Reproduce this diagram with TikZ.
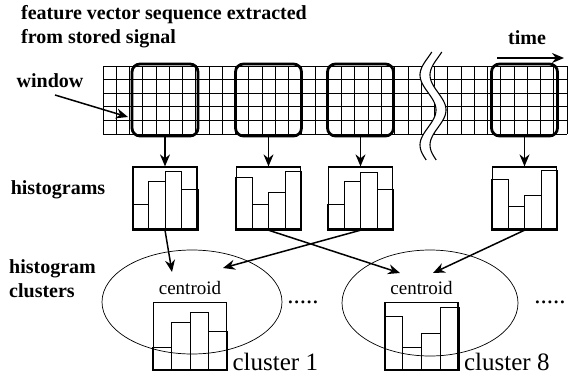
\documentclass[tikz,border=0pt]{standalone}
\usepackage{fontspec}
\setmainfont{Liberation Serif}[BoldFont={Liberation Serif Bold}]
\usetikzlibrary{positioning,calc,shapes.geometric,arrows.meta}

% bars of a histogram box: node, four heights (part of the box height)
\newcommand{\histbars}[5]{%
  \foreach \hb [count=\ib from 0] in {#2,#3,#4,#5}{%
    \path ($(#1.south west)!{(\ib+1)/4}!(#1.south east)$) coordinate (bx)
          ($(#1.south west)!\hb!(#1.north west)$) coordinate (by);
    \draw[bar] ($(#1.south west)!{\ib/4}!(#1.south east)$) rectangle (bx |- by);
  }}

\begin{document}
\begin{tikzpicture}[x=1pt,y=-1pt,every node/.style={inner sep=0pt}]
\tikzstyle{arrow}=[draw,line width=1.5pt,-{Stealth[length=12pt,width=10pt]}]
\tikzstyle{gridline}=[line width=0.8pt]
\tikzstyle{window}=[draw,line width=2.8pt,rounded corners=8pt,minimum width=66pt,minimum height=72pt]
\tikzstyle{hist}=[draw,line width=1.8pt,minimum width=64pt,minimum height=62pt]
\tikzstyle{centbox}=[draw,line width=1.8pt,minimum width=73pt,minimum height=67pt]
\tikzstyle{bar}=[line width=0.8pt]
\tikzstyle{cluster}=[draw,ellipse,line width=0.7pt]
\tikzstyle{label}=[font=\fontsize{20}{24}\selectfont\bfseries]
\tikzstyle{small}=[font=\fontsize{19}{22}\selectfont]
\tikzstyle{big}=[font=\fontsize{25}{28}\selectfont]
\useasboundingbox (0,0) rectangle (570,380);

% feature vector grid
\foreach \i in {0,...,35}
  \draw[gridline] (103+\i*13.257,66) -- (103+\i*13.257,134);
\foreach \j in {0,...,5}
  \draw[gridline] (103,66+\j*13.6) -- (567,66+\j*13.6);

% break in the sequence
\draw[white,line width=9pt] plot[domain=62:138,samples=40,smooth] ({433-8*cos(5.1429*(\x-75))},\x);
\draw[line width=1.1pt] plot[domain=52:160,samples=50,smooth] ({428-8*cos(5.1429*(\x-75))},\x);
\draw[line width=1.1pt] plot[domain=52:160,samples=50,smooth] ({438-8*cos(5.1429*(\x-75))},\x);

% windows
\node[window](w1) at (165,100) {};
\node[window](w2) at (268.5,100) {};
\node[window](w3) at (360.5,100) {};
\node[window](w4) at (524.5,100) {};

\node[label,anchor=north west,align=left](title) at (21,5) {feature vector sequence extracted\\from stored signal};
\node[label](tlab) at (527,38) {time};
\coordinate (t0) at (497,58);
\coordinate (t1) at (564,58);
\draw[arrow] (t0) -- (t1);

\node[label](wlab) at (50,81) {window};
\coordinate (wtip) at (128,117);
\draw[arrow] (55,95) -- (wtip);

% histograms
\node[hist,below=29pt of w1](h1) {};
\node[hist,below=29pt of w2](h2) {};
\node[hist,below=29pt of w3](h3) {};
\node[hist,below=29pt of w4](h4) {};
\histbars{h1}{0.4}{0.77}{0.92}{0.64}
\histbars{h2}{0.82}{0.4}{0.59}{0.92}
\histbars{h3}{0.4}{0.77}{0.9}{0.64}
\histbars{h4}{0.8}{0.38}{0.54}{0.93}
\foreach \n in {1,...,4}
  \draw[arrow] (w\n.south) -- (h\n.north);
\node[label](hlab) at (58,190) {histograms};

% histogram clusters
\node[label,anchor=west,align=left](clab) at (9,279) {histogram\\clusters};
\node[cluster,minimum width=180pt,minimum height=104pt](e1) at (192,302) {};
\node[cluster,minimum width=176pt,minimum height=106pt](e2) at (430,303) {};
\node[centbox](c1) at (190,336) {};
\node[centbox](c2) at (421.5,336) {};
\histbars{c1}{0.34}{0.7}{0.85}{0.57}
\histbars{c2}{0.78}{0.34}{0.54}{0.91}
\node[small,above=7pt of c1] {centroid};
\node[small,above=7pt of c2] {centroid};
\node[big,anchor=base west,xshift=5pt] at (c1.south east) {cluster 1};
\node[big,anchor=base west,xshift=5pt] at (c2.south east) {cluster 8};
\node[big](dots1) at (303,302) {.....};
\node[big](dots2) at (550,302) {.....};

\coordinate (a1) at (172,272);
\coordinate (a2) at (223,268);
\coordinate (a3) at (400,273);
\coordinate (a4) at (433,273);
\draw[arrow] (h1.south) -- (a1);
\draw[arrow] (h3.south) -- (a2);
\draw[arrow] (h2.south) -- (a3);
\draw[arrow] (h4.south) -- (a4);
\end{tikzpicture}
\end{document}
